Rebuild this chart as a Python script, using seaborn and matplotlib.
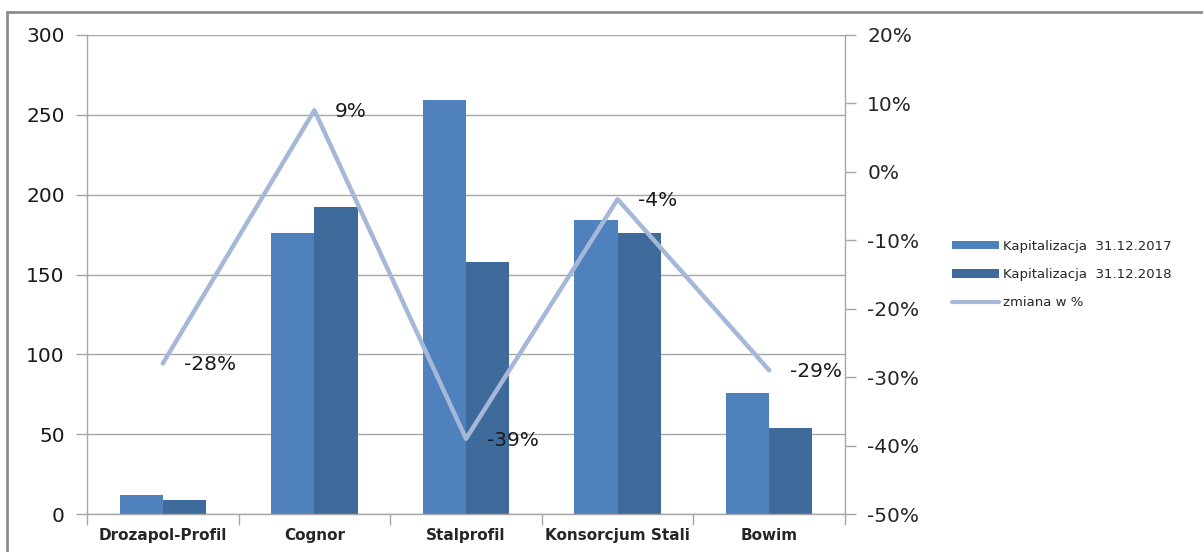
import numpy as np
import pandas as pd
import matplotlib
matplotlib.use("Agg")
import matplotlib.pyplot as plt
import seaborn as sns
from matplotlib.patches import Patch
from matplotlib.lines import Line2D

categories = ["Drozapol-Profil", "Cognor", "Stalprofil", "Konsorcjum Stali", "Bowim"]
cap_2017 = [12, 176, 259, 184, 76]
cap_2018 = [9, 192, 158, 176, 54]
change_pct = [-28, 9, -39, -4, -29]
series_names = ["Kapitalizacja  31.12.2017", "Kapitalizacja  31.12.2018", "zmiana w %"]
left_ticks = [0, 50, 100, 150, 200, 250, 300]
right_ticks = [-50, -40, -30, -20, -10, 0, 10, 20]

sns.set_theme(style="white")
plt.rcParams["font.family"] = ["DejaVu Sans"]

c17 = "#4F81BD"
c18 = "#3F6A9C"
cline = "#A5B8D7"
gridc = "#A6A6A6"

df = pd.DataFrame({
    "firma": categories * 2,
    "seria": [series_names[0]] * 5 + [series_names[1]] * 5,
    "wartosc": cap_2017 + cap_2018,
})

fig = plt.figure(figsize=(12.03, 5.52), dpi=100)
ax = fig.add_axes([87 / 1203, 1 - 514 / 552, (845 - 87) / 1203, (514 - 35) / 552])

sns.barplot(data=df, x="firma", y="wartosc", hue="seria", order=categories,
            palette=[c17, c18], width=0.57, gap=0, saturation=1,
            edgecolor="none", linewidth=0, ax=ax, legend=False)

ax.set_ylim(0, 300)
ax.set_xlim(-0.5, 4.5)
ax.set_yticks(left_ticks)
ax.set_yticklabels([str(t) for t in left_ticks], fontsize=14.5)
ax.set_xlabel("")
ax.set_ylabel("")
ax.set_xticks(np.arange(len(categories)))
ax.set_xticklabels(categories, fontsize=11, fontweight="bold")
ax.tick_params(axis="x", length=0, pad=10)
ax.tick_params(axis="y", length=8, width=1, color=gridc, pad=8, direction="out", left=True)
for t in ax.get_yticklabels():
    t.set_color("#1a1a1a")
ax.yaxis.grid(True, color=gridc, linewidth=1)
ax.set_axisbelow(True)
for s in ["top", "right"]:
    ax.spines[s].set_visible(False)
for s in ["left", "bottom"]:
    ax.spines[s].set_color(gridc)
    ax.spines[s].set_linewidth(1)
ax.set_xticks(np.arange(-0.5, 5.0, 1.0), minor=True)
ax.tick_params(axis="x", which="minor", length=8, color=gridc, width=1, bottom=True)

ax2 = ax.twinx()
sns.lineplot(x=np.arange(len(categories)), y=change_pct, color=cline, linewidth=3.2,
             ax=ax2, legend=False)
ax2.set_ylim(-50, 20)
ax2.set_yticks(right_ticks)
ax2.set_yticklabels([f"{t}%" for t in right_ticks], fontsize=14.5)
ax2.tick_params(axis="y", length=8, width=1, color=gridc, pad=8, direction="out", right=True)
ax2.set_ylabel("")
for s in ["top", "left", "bottom"]:
    ax2.spines[s].set_visible(False)
ax2.spines["right"].set_color(gridc)
ax2.spines["right"].set_linewidth(1)
ax2.grid(False)

for i, v in enumerate(change_pct):
    ax2.annotate(f"{v}%", (i, v), xytext=(15, -1), textcoords="offset points",
                 ha="left", va="center", fontsize=14.5, color="#1a1a1a")

handles = [Patch(facecolor=c17, edgecolor="none"),
           Patch(facecolor=c18, edgecolor="none"),
           Line2D([0], [0], color=cline, linewidth=3)]
fig.legend(handles, series_names, loc="upper left",
           bbox_to_anchor=(940 / 1203, 1 - 228 / 552), frameon=False,
           fontsize=9.5, handlelength=3.6, handleheight=0.6, labelspacing=1.15,
           handletextpad=0.3)

fig.add_artist(Line2D([7 / 1203, 1.0], [1 - 12 / 552, 1 - 12 / 552],
                      transform=fig.transFigure, color="#8C8C8C", linewidth=2))
fig.add_artist(Line2D([7 / 1203, 7 / 1203], [0, 1 - 12 / 552],
                      transform=fig.transFigure, color="#8C8C8C", linewidth=2))

fig.savefig("out.png", dpi=100, facecolor="white")
